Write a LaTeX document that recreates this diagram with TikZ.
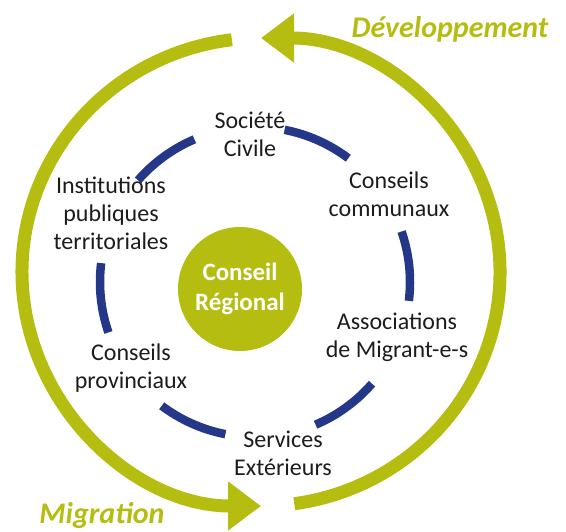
\documentclass[tikz,border=0pt]{standalone}
\usepackage{fontspec}
\setmainfont{Carlito}
\usetikzlibrary{arrows.meta}
\definecolor{vertanneau}{RGB}{181,189,16}
\definecolor{bleuanneau}{RGB}{36,55,137}
\definecolor{texte}{RGB}{30,27,28}

\begin{document}
\begin{tikzpicture}[x=0.5pt,y=0.5pt,
    acteur/.style={font=\fontsize{12}{14}\selectfont,text=texte,align=center,inner sep=0pt},
    sens/.style={font=\fontsize{15}{18}\selectfont\bfseries\itshape,text=vertanneau,inner sep=0pt}]
  \useasboundingbox (0,0) rectangle (566,531);
  % anneau vert avec les deux fleches
  \draw[vertanneau,line width=6.5pt,-{Triangle[length=16.5pt,width=23.5pt]}]
    (261,259) ++(97:239 and 234) arc[start angle=97,end angle=270,x radius=239,y radius=234];
  \draw[vertanneau,line width=6.5pt,-{Triangle[length=16.5pt,width=23.5pt]}]
    (261,259) ++(-82:239 and 234) arc[start angle=-82,end angle=90,x radius=239,y radius=234];
  % cercle bleu en tirets
  \foreach \a in {-7,53,113,173,233,293}
    \draw[bleuanneau,line width=4.25pt] (255,249) ++(\a:155) arc[start angle=\a,delta angle=26,radius=155];
  % centre
  \node[circle,fill=vertanneau,minimum size=62pt,inner sep=0pt,text=white,font=\fontsize{12.5}{15}\selectfont\bfseries,align=center]
    (centre) at (240,242) {Conseil\\Régional};
  \foreach \n/\x/\y/\t in {societe/250/397/{Société\\Civile},
      communaux/389/337/{Conseils\\communaux},
      associations/397/194/{Associations\\de Migrant-e-s},
      services/283/78/{Services\\Extérieurs},
      provinciaux/131/163/{Conseils\\provinciaux},
      institutions/111/318/{Institutions\\publiques\\territoriales}}
    \node[acteur] (\n) at (\x,\y) {\t};
  \node[sens,anchor=base] (developpement) at (450,493) {Développement};
  \node[sens,anchor=base] (migration) at (102,8) {Migration};
\end{tikzpicture}
\end{document}
